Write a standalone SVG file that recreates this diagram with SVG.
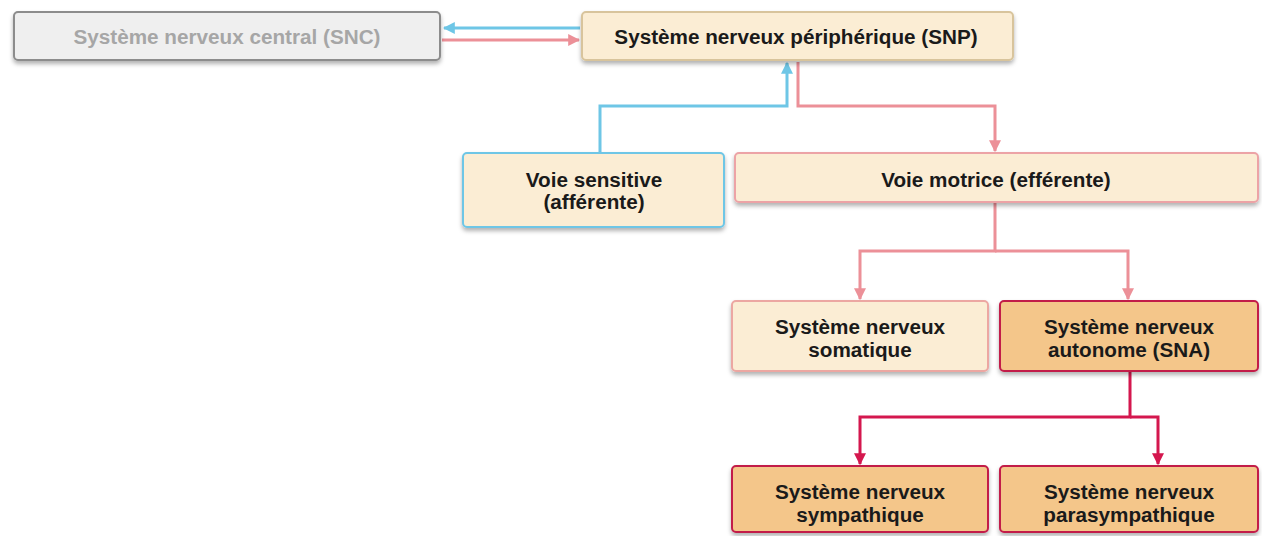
<svg xmlns="http://www.w3.org/2000/svg" width="1262" height="536" viewBox="0 0 1262 536">
<style>
text{font-family:"Liberation Sans",Arial,sans-serif;font-weight:bold;font-size:20.7px;text-anchor:middle;fill:#1a1a1a}
.box{stroke-width:2}
.light{fill:#fbedd4}
.dark{fill:#f4c68a;stroke:#c21f48}
.c{fill:none;stroke-width:3}
.blue{stroke:#6ec6e6}
.pink{stroke:#ec9098}
.red{stroke:#d4174e}
</style>
<defs>
<filter id="sh" x="-5%" y="-20%" width="110%" height="150%">
<feDropShadow dx="0" dy="3" stdDeviation="2" flood-color="#000" flood-opacity="0.3"/>
</filter>
<marker id="ab" viewBox="0 0 10 10" refX="9" refY="5" markerWidth="4" markerHeight="4" orient="auto"><path d="M0,0L10,5L0,10z" fill="#6ec6e6"/></marker>
<marker id="ap" viewBox="0 0 10 10" refX="9" refY="5" markerWidth="4" markerHeight="4" orient="auto"><path d="M0,0L10,5L0,10z" fill="#ec9098"/></marker>
<marker id="ar" viewBox="0 0 10 10" refX="9" refY="5" markerWidth="4" markerHeight="4" orient="auto"><path d="M0,0L10,5L0,10z" fill="#d4174e"/></marker>
</defs>
<rect width="1262" height="536" fill="#fff"/>
<g id="connectors">
<path class="c blue" d="M580,28H444" marker-end="url(#ab)"/>
<path class="c pink" d="M442,40H579" marker-end="url(#ap)"/>
<path class="c blue" d="M600,153V106H787V63" marker-end="url(#ab)"/>
<path class="c pink" d="M798,62V106H995V151" marker-end="url(#ap)"/>
<path class="c pink" d="M995,203V251H860V299" marker-end="url(#ap)"/>
<path class="c pink" d="M995,251H1128V299" marker-end="url(#ap)"/>
<path class="c red" d="M1130,371V417H860V464" marker-end="url(#ar)"/>
<path class="c red" d="M1130,417H1158V464" marker-end="url(#ar)"/>
</g>
<g id="snc">
<rect class="box" x="14" y="12" width="426" height="48" rx="4" fill="#efefef" stroke="#8c8c8c" filter="url(#sh)"/>
<text x="227" y="44" style="fill:#a6a6a6">Système nerveux central (SNC)</text>
</g>
<g id="snp">
<rect class="box light" x="582" y="12" width="431" height="48" rx="4" stroke="#d8c49c" filter="url(#sh)"/>
<text x="796" y="44">Système nerveux périphérique (SNP)</text>
</g>
<g id="voie-sensitive">
<rect class="box light" x="463" y="153" width="261" height="74" rx="4" stroke="#6ec6e6" filter="url(#sh)"/>
<text x="594" y="187">Voie sensitive</text>
<text x="594" y="209">(afférente)</text>
</g>
<g id="voie-motrice">
<rect class="box light" x="735" y="153" width="523" height="49" rx="4" stroke="#eca3a6" filter="url(#sh)"/>
<text x="996" y="187">Voie motrice (efférente)</text>
</g>
<g id="somatique">
<rect class="box light" x="732" y="301" width="256" height="70" rx="4" stroke="#eca7a2" filter="url(#sh)"/>
<text x="860" y="334">Système nerveux</text>
<text x="860" y="357">somatique</text>
</g>
<g id="sna">
<rect class="box dark" x="1000" y="301" width="258" height="70" rx="4" filter="url(#sh)"/>
<text x="1129" y="334">Système nerveux</text>
<text x="1129" y="357">autonome (SNA)</text>
</g>
<g id="sympathique">
<rect class="box dark" x="732" y="466" width="256" height="66" rx="4" filter="url(#sh)"/>
<text x="860" y="499">Système nerveux</text>
<text x="860" y="522">sympathique</text>
</g>
<g id="parasympathique">
<rect class="box dark" x="1000" y="466" width="258" height="66" rx="4" filter="url(#sh)"/>
<text x="1129" y="499">Système nerveux</text>
<text x="1129" y="522">parasympathique</text>
</g>
</svg>
